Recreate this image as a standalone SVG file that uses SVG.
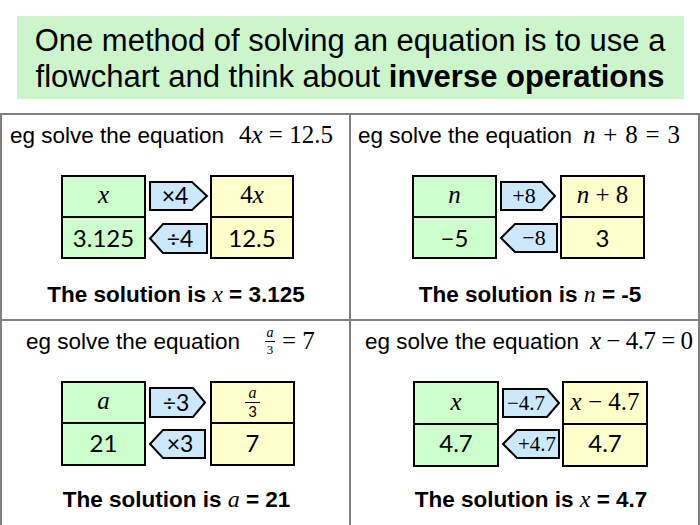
<svg xmlns="http://www.w3.org/2000/svg" width="700" height="525" viewBox="0 0 700 525">
<style>
.bg{fill:#ffffff}
.title{fill:#ccf5cc}
.tt{font-family:"Liberation Sans",Arial,sans-serif;font-size:31px;fill:#000;text-anchor:middle}
.grid{stroke:#808080;stroke-width:2;fill:none}
.head{font-family:"Liberation Sans",Arial,sans-serif;font-size:22.5px;fill:#000}
.math{font-family:"Liberation Serif","Times New Roman",serif;fill:#000}
.it{font-style:italic}
.g{fill:#ccffcc;stroke:#000;stroke-width:2}
.y{fill:#ffffcc;stroke:#000;stroke-width:2}
.arr{fill:#cce8fb;stroke:#000;stroke-width:2;stroke-linejoin:miter}
.num{font-family:Lato,"Liberation Sans",sans-serif;font-size:24px;fill:#000;text-anchor:middle}
.lab{font-family:Lato,"Liberation Sans",sans-serif;font-size:23px;fill:#000;text-anchor:middle}
.mc{font-family:"Liberation Serif","Times New Roman",serif;font-size:25px;fill:#000;text-anchor:middle}
.ml{font-family:"Liberation Serif","Times New Roman",serif;font-size:21px;fill:#000;text-anchor:middle}
.sol{font-family:"Liberation Sans",Arial,sans-serif;font-size:22.5px;font-weight:bold;fill:#000;text-anchor:middle}
.sv{font-family:"Liberation Serif","Times New Roman",serif;font-style:italic;font-weight:normal;font-size:24px}
.fl{stroke:#000;stroke-width:1}
</style>
<rect class="bg" x="0" y="0" width="700" height="525"/>

<g id="title">
<rect class="title" x="17" y="16" width="667" height="83"/>
<text class="tt" x="350" y="51">One method of solving an equation is to use a</text>
<text class="tt" x="350" y="87">flowchart and think about <tspan font-weight="bold">inverse operations</tspan></text>
</g>

<g id="table">
<rect class="grid" x="1" y="114" width="698" height="420"/>
<line class="grid" x1="350" y1="114" x2="350" y2="525"/>
<line class="grid" x1="1" y1="320" x2="699" y2="320"/>
</g>

<!-- Panel 1 -->
<g id="panel1">
<text class="head" x="10" y="143">eg solve the equation</text>
<text class="math" x="239" y="143" font-size="25">4<tspan class="it">x</tspan> = 12.5</text>
<g id="p1-green">
<rect class="g" x="62" y="176" width="83" height="41"/>
<rect class="g" x="62" y="217" width="83" height="41"/>
<text class="mc it" x="103.5" y="203">x</text>
<text class="num" x="103.5" y="247">3.125</text>
</g>
<g id="p1-yellow">
<rect class="y" x="211" y="176" width="82" height="41"/>
<rect class="y" x="211" y="217" width="82" height="41"/>
<text class="mc" x="252" y="203">4<tspan class="it">x</tspan></text>
<text class="num" x="252" y="247">12.5</text>
</g>
<text class="sol" x="176" y="302">The solution is <tspan class="sv">x</tspan> = 3.125</text>
</g>

<!-- Panel 2 -->
<g id="panel2">
<text class="head" x="358" y="143">eg solve the equation</text>
<text class="math" x="583" y="143" font-size="25" textLength="97"><tspan class="it">n</tspan> + 8 = 3</text>
<g id="p2-green">
<rect class="g" x="413" y="176" width="83" height="41"/>
<rect class="g" x="413" y="217" width="83" height="41"/>
<text class="mc it" x="454.5" y="203">n</text>
<text class="num" x="454.5" y="247">−5</text>
</g>
<g id="p2-yellow">
<rect class="y" x="561" y="176" width="83" height="41"/>
<rect class="y" x="561" y="217" width="83" height="41"/>
<text class="mc" x="602.5" y="203"><tspan class="it">n</tspan> + 8</text>
<text class="num" x="602.5" y="247">3</text>
</g>
<text class="sol" x="530" y="302">The solution is <tspan class="sv">n</tspan> = -5</text>
</g>

<!-- Panel 3 -->
<g id="panel3">
<text class="head" x="26" y="349">eg solve the equation</text>
<text class="math it" x="270" y="337" font-size="14" text-anchor="middle">a</text>
<line class="fl" x1="265" y1="341.5" x2="275" y2="341.5"/>
<text class="math" x="270" y="354" font-size="13" text-anchor="middle">3</text>
<text class="math" x="282" y="349" font-size="25">= 7</text>
<g id="p3-green">
<rect class="g" x="62" y="382" width="83" height="41"/>
<rect class="g" x="62" y="423" width="83" height="42"/>
<text class="mc it" x="103.5" y="409">a</text>
<text class="num" x="103.5" y="452">21</text>
</g>
<g id="p3-yellow">
<rect class="y" x="211" y="382" width="83" height="41"/>
<rect class="y" x="211" y="423" width="83" height="42"/>
<text class="math it" x="252.5" y="398" font-size="16" text-anchor="middle">a</text>
<line class="fl" x1="245" y1="402.5" x2="260" y2="402.5"/>
<text class="num" x="252.5" y="417" style="font-size:15px">3</text>
<text class="num" x="252.5" y="452">7</text>
</g>
<text class="sol" x="176.5" y="507">The solution is <tspan class="sv">a</tspan> = 21</text>
</g>

<!-- Panel 4 -->
<g id="panel4">
<text class="head" x="365" y="349">eg solve the equation</text>
<text class="math" x="590" y="349" font-size="25" textLength="103"><tspan class="it">x</tspan> − 4.7 = 0</text>
<g id="p4-green">
<rect class="g" x="414" y="382" width="84" height="42"/>
<rect class="g" x="414" y="424" width="84" height="42"/>
<text class="mc it" x="456" y="410">x</text>
<text class="num" x="456" y="452">4.7</text>
</g>
<g id="p4-yellow">
<rect class="y" x="563" y="382" width="84" height="42"/>
<rect class="y" x="563" y="424" width="84" height="42"/>
<text class="mc" x="605" y="410"><tspan class="it">x</tspan> − 4.7</text>
<text class="num" x="605" y="452">4.7</text>
</g>
<text class="sol" x="531" y="507">The solution is <tspan class="sv">x</tspan> = 4.7</text>
</g>

<g id="connectors">
<g id="a1f"><path class="arr" d="M150,182 H192 L207,196 L192,210 H150 Z"/><text class="lab" x="175" y="204">×4</text></g>
<g id="a1b"><path class="arr" d="M207,224 H163 L150,238.5 L163,253 H207 Z"/><text class="lab" x="180" y="247">÷4</text></g>
<g id="a2f"><path class="arr" d="M501,182 H542 L555,196 L542,210 H501 Z"/><text class="ml" x="524" y="203" style="font-size:22px">+8</text></g>
<g id="a2b"><path class="arr" d="M557,224 H515 L501,238 L515,252 H557 Z"/><text class="ml" x="534" y="245" style="font-size:22px">−8</text></g>
<g id="a3f"><path class="arr" d="M150,388 H193 L205,402.5 L193,417 H150 Z"/><text class="lab" x="176" y="411">÷3</text></g>
<g id="a3b"><path class="arr" d="M205,430 H163 L150,444 L163,458 H205 Z"/><text class="lab" x="180" y="452">×3</text></g>
<g id="a4f"><path class="arr" d="M503,389 H547 L559,403 L547,417 H503 Z"/><text class="ml" x="526" y="410">−4.7</text></g>
<g id="a4b"><path class="arr" d="M559,430 H517 L503,444 L517,458 H559 Z"/><text class="ml" x="537" y="451">+4.7</text></g>
</g>
</svg>
